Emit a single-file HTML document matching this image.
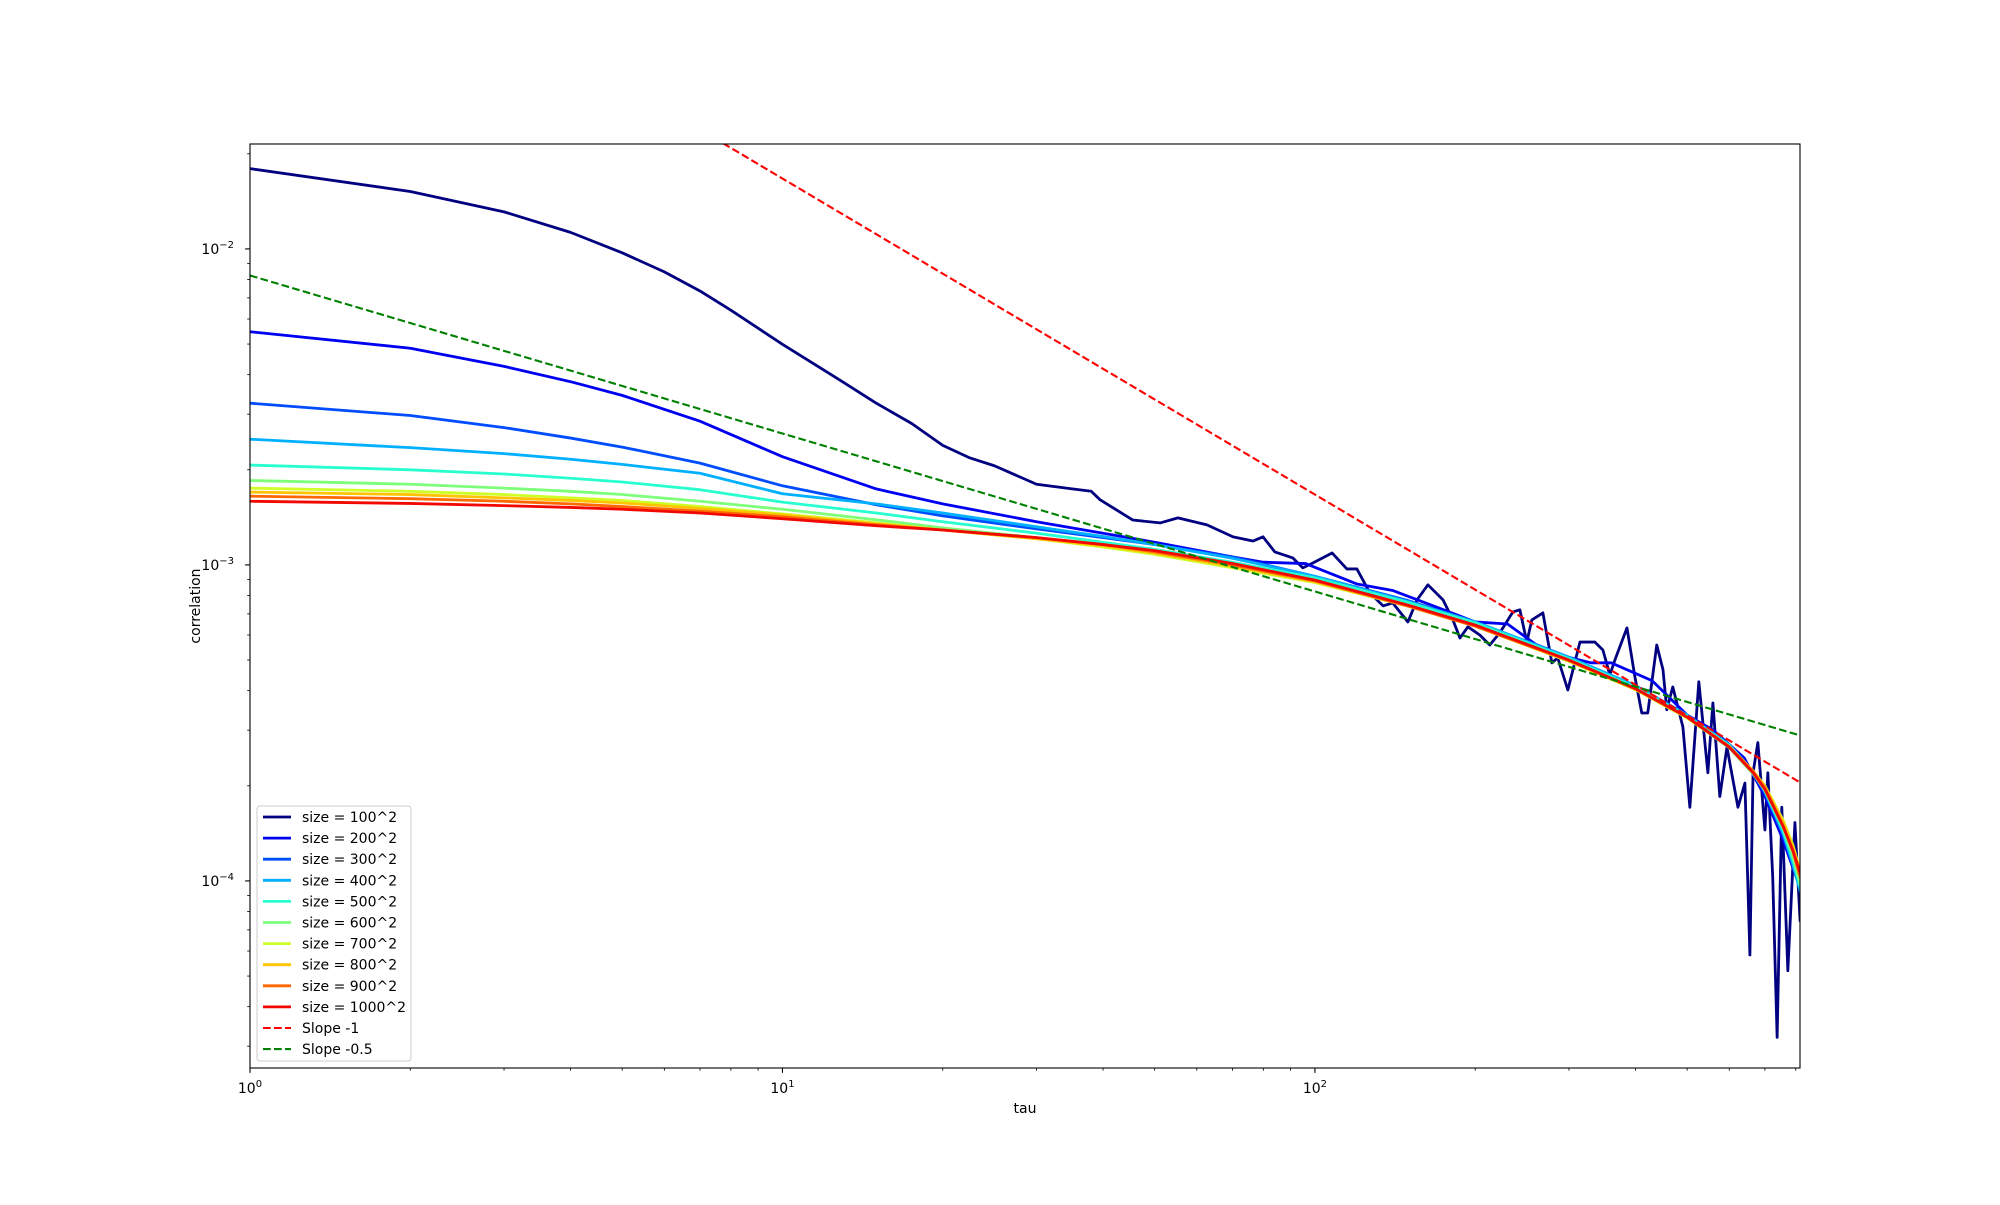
<!DOCTYPE html>
<html><head><meta charset="utf-8"><style>
html,body{margin:0;padding:0;background:#fff;}
svg text{font-family:"DejaVu Sans","Liberation Sans",sans-serif;fill:#000;}
</style></head>
<body>
<svg id="chart" width="2000" height="1200" xmlns="http://www.w3.org/2000/svg">
<rect x="0" y="0" width="2000" height="1200" fill="#fff"/>
<defs><clipPath id="plotclip"><rect x="250" y="144" width="1550" height="924"/></clipPath></defs>
<g id="series" clip-path="url(#plotclip)"></g>
<g id="axes"></g>
<g id="legend"></g>
</svg>
<script>
// ---- data ----
const tau100 = [1,2,3,4,5,6,7,8,10,12.5,15,17.5,20,22.5,25,30,35,38,39.5,45.5,51.2,55.3,62.7,70.2,76.5,79.9,84.1,90.9,94.9,99.1,107.7,114.8,119.9,123,126.8,134.3,140,149.5,155.5,163,174,181.6,187.2,193.8,204,213,222.5,235.4,242.6,250,255.5,268,278.6,285.8,298.5,314.6,335.5,347.4,358,365.9,385.5,399,411,421.8,438.5,450.5,458,470,491,506,526,547,559,576,594,623,642,656,665,679,700,709,724,738,753,773,797,815];
const c100 = [0.01795,0.0152,0.0131,0.01128,0.00972,0.00846,0.00736,0.0064,0.00499,0.00395,0.00325,0.0028,0.00239,0.00218,0.00206,0.0018,0.00174,0.00171,1.607e-3,1.387e-3,1.358e-3,1.409e-3,1.339e-3,1.227e-3,1.19e-3,1.227e-3,1.099e-3,1.052e-3,9.79e-4,1.014e-3,1.091e-3,9.71e-4,9.71e-4,8.97e-4,8.15e-4,7.42e-4,7.58e-4,6.6e-4,7.75e-4,8.65e-4,7.75e-4,6.7e-4,5.87e-4,6.37e-4,6.0e-4,5.58e-4,6.1e-4,7.1e-4,7.21e-4,5.7e-4,6.7e-4,7.05e-4,4.9e-4,5.08e-4,4.02e-4,5.7e-4,5.7e-4,5.38e-4,4.49e-4,5.0e-4,6.32e-4,4.42e-4,3.4e-4,3.4e-4,5.58e-4,4.66e-4,3.48e-4,4.11e-4,3.07e-4,1.71e-4,4.27e-4,2.2e-4,3.66e-4,1.85e-4,2.65e-4,1.71e-4,2.04e-4,5.83e-5,2.2e-4,2.74e-4,1.45e-4,2.2e-4,1.03e-4,3.2e-5,1.71e-4,5.2e-5,1.53e-4,7.5e-5];
const tau200 = [1,2,3,4,5,7,10,15,20,30,40,50,70,80,96,120,140,175,200,230,260,300,330,360,430,500,560,640,700,757,790,815];
const c200 = [5.47e-3,4.85e-3,4.25e-3,3.8e-3,3.44e-3,2.85e-3,2.2e-3,1.74e-3,1.56e-3,1.37e-3,1.26e-3,1.18e-3,1.06e-3,1.02e-3,1.01e-3,8.7e-4,8.3e-4,7.2e-4,6.6e-4,6.5e-4,5.6e-4,5.1e-4,4.9e-4,4.9e-4,4.3e-4,3.35e-4,3.0e-4,2.45e-4,1.85e-4,1.35e-4,1.1e-4,9.5e-5];
const tauS = [1,2,3,4,5,7,10,15,20,30,40,50,70,100,150,200,300,400,500,600,665,700,757,790,815];
const c300 = [3.25e-3,2.97e-3,2.72e-3,2.52e-3,2.36e-3,2.1e-3,1.78e-3,1.55e-3,1.43e-3,1.3e-3,1.22e-3,1.16e-3,1.06e-3,9.2e-4,7.7e-4,6.6e-4,5.1e-4,4.15e-4,3.35e-4,2.68e-4,2.2e-4,1.9e-4,1.4e-4,1.12e-4,9.4e-5];
const c400 = [2.5e-3,2.35e-3,2.25e-3,2.16e-3,2.08e-3,1.95e-3,1.68e-3,1.56e-3,1.46e-3,1.32e-3,1.23e-3,1.16e-3,1.05e-3,9.2e-4,7.65e-4,6.6e-4,5.1e-4,4.15e-4,3.35e-4,2.7e-4,2.22e-4,1.92e-4,1.42e-4,1.13e-4,9.3e-5];
const c500 = [2.07e-3,2.0e-3,1.94e-3,1.88e-3,1.83e-3,1.73e-3,1.58e-3,1.46e-3,1.37e-3,1.26e-3,1.18e-3,1.12e-3,1.02e-3,9.1e-4,7.6e-4,6.55e-4,5.05e-4,4.1e-4,3.32e-4,2.68e-4,2.2e-4,1.93e-4,1.45e-4,1.17e-4,9.6e-5];
const c600 = [1.85e-3,1.8e-3,1.75e-3,1.71e-3,1.67e-3,1.59e-3,1.5e-3,1.39e-3,1.31e-3,1.22e-3,1.15e-3,1.09e-3,9.9e-4,8.9e-4,7.45e-4,6.45e-4,4.98e-4,4.05e-4,3.28e-4,2.64e-4,2.18e-4,1.94e-4,1.48e-4,1.2e-4,9.8e-5];
const c700 = [1.75e-3,1.71e-3,1.67e-3,1.63e-3,1.6e-3,1.53e-3,1.45e-3,1.36e-3,1.29e-3,1.21e-3,1.14e-3,1.08e-3,9.8e-4,8.8e-4,7.4e-4,6.4e-4,4.95e-4,4.03e-4,3.28e-4,2.66e-4,2.23e-4,2.0e-4,1.56e-4,1.3e-4,1.08e-4];
const c800 = [1.7e-3,1.67e-3,1.63e-3,1.6e-3,1.57e-3,1.51e-3,1.44e-3,1.35e-3,1.29e-3,1.21e-3,1.15e-3,1.09e-3,9.9e-4,8.85e-4,7.4e-4,6.4e-4,4.97e-4,4.04e-4,3.29e-4,2.66e-4,2.23e-4,1.99e-4,1.54e-4,1.28e-4,1.07e-4];
const c900 = [1.65e-3,1.62e-3,1.59e-3,1.56e-3,1.53e-3,1.48e-3,1.42e-3,1.34e-3,1.29e-3,1.22e-3,1.16e-3,1.1e-3,1.0e-3,8.9e-4,7.4e-4,6.4e-4,4.98e-4,4.05e-4,3.3e-4,2.66e-4,2.22e-4,1.97e-4,1.5e-4,1.24e-4,1.03e-4];
const c1000 = [1.59e-3,1.565e-3,1.54e-3,1.52e-3,1.5e-3,1.46e-3,1.4e-3,1.33e-3,1.29e-3,1.22e-3,1.16e-3,1.11e-3,1.01e-3,8.95e-4,7.45e-4,6.45e-4,5.0e-4,4.06e-4,3.3e-4,2.65e-4,2.2e-4,1.95e-4,1.49e-4,1.25e-4,1.06e-4];
const seriesLabels = ["size = 100^2","size = 200^2","size = 300^2","size = 400^2","size = 500^2","size = 600^2","size = 700^2","size = 800^2","size = 900^2","size = 1000^2"];
const seriesColors = ["#000080","#0000f1","#004cff","#00b0ff","#29ffce","#7dff7a","#ceff29","#ffc400","#ff6800","#f10800"];
const slopeLabels = ["Slope -1","Slope -0.5"];
const slopeCoef = [0.167, 0.00824];
const slopeExp = [-1, -0.5];
const xTicks = [1,10,100];
const xTickLabels = ["0","1","2"];
const yTicks = [1e-4,1e-3,1e-2];
const yTickLabels = ["\u22124","\u22123","\u22122"];

// ---- axes ----
const X0=250,X1=1800,Y0=144,Y1=1068;
const LXMIN=0,LXMAX=2.911,LYMAX=-1.668,LYMIN=-4.592;
function xs(t){return X0+(Math.log10(t)-LXMIN)/(LXMAX-LXMIN)*(X1-X0);}
function ys(v){return Y0+(LYMAX-Math.log10(v))/(LYMAX-LYMIN)*(Y1-Y0);}
const NS="http://www.w3.org/2000/svg";
function mk(tag,attrs,parent){const e=document.createElementNS(NS,tag);for(const k in attrs)e.setAttribute(k,attrs[k]);parent.appendChild(e);return e;}
const gS=document.getElementById('series'),gA=document.getElementById('axes'),gL=document.getElementById('legend');

const allTau=[tau100,tau200,tauS,tauS,tauS,tauS,tauS,tauS,tauS,tauS];
const allC=[c100,c200,c300,c400,c500,c600,c700,c800,c900,c1000];
for(let i=0;i<allC.length;i++){
  const pts=allTau[i].map((t,j)=>xs(t).toFixed(2)+','+ys(allC[i][j]).toFixed(2)).join(' ');
  const pl=mk('polyline',{points:pts,fill:'none',stroke:seriesColors[i],'stroke-width':2.8,'stroke-linejoin':'round','stroke-linecap':'square'},gS);
  
  
}
const slopeColors=["#ff0000","#008000"];
for(let i=0;i<2;i++){
  const ta=1,tb=815;
  const ln=mk('line',{x1:xs(ta),y1:ys(slopeCoef[i]*Math.pow(ta,slopeExp[i])),x2:xs(tb),y2:ys(slopeCoef[i]*Math.pow(tb,slopeExp[i])),stroke:slopeColors[i],'stroke-width':2.1,'stroke-dasharray':'7.7,3.3'},gS);
  
  
}
// frame
const fr=mk('rect',{x:X0,y:Y0,width:X1-X0,height:Y1-Y0,fill:'none',stroke:'#000','stroke-width':1.1},gA);


// x ticks
for(let d=0;d<3;d++){for(let m=1;m<10;m++){const t=Math.pow(10,d)*m;const x=xs(t);if(x>X1+0.5)continue;
  const tk=mk('line',{x1:x,y1:Y1,x2:x,y2:Y1+(m===1?4.9:2.8),stroke:'#000','stroke-width':m===1?1.1:0.8},gA);
  
  }}
xTicks.forEach((t,i)=>{const tx=mk('text',{x:xs(t),y:1093,'font-size':14,'text-anchor':'middle'},gA);
  tx.innerHTML='10<tspan dy="-6" font-size="10">'+xTickLabels[i]+'</tspan>';
  
  });
// y ticks
for(let d=-5;d<-1;d++){for(let m=1;m<10;m++){const v=Math.pow(10,d)*m;const y=ys(v);if(y<Y0-0.5||y>Y1+0.5)continue;
  const tk=mk('line',{x1:X0,y1:y,x2:X0-(m===1?4.9:2.8),y2:y,stroke:'#000','stroke-width':m===1?1.1:0.8},gA);
  
  }}
yTicks.forEach((v,i)=>{const tx=mk('text',{x:234,y:ys(v)+5,'font-size':14,'text-anchor':'end'},gA);
  tx.innerHTML='10<tspan dy="-6" font-size="10">'+yTickLabels[i]+'</tspan>';
  
  });
const xl=mk('text',{x:1025,y:1113,'font-size':14,'text-anchor':'middle'},gA);xl.textContent='tau';


const yl=mk('text',{x:0,y:0,'font-size':14,'text-anchor':'middle',transform:'translate(200,606) rotate(-90)'},gA);yl.textContent='correlation';


// legend
const lb=mk('rect',{x:257,y:806,width:154,height:255,rx:3,fill:'#fff','fill-opacity':0.8,stroke:'#ccc','stroke-width':1},gL);


const labs=seriesLabels.concat(slopeLabels),cols=seriesColors.concat(slopeColors);
labs.forEach((s,i)=>{const y=817+i*21.1;
  const ln=mk('line',{x1:263,y1:y,x2:291,y2:y,stroke:cols[i],'stroke-width':i<10?2.8:2.1},gL);
  if(i>=10)ln.setAttribute('stroke-dasharray','7.7,3.3');
  
  
  const tx=mk('text',{x:302,y:y+5,'font-size':14},gL);tx.textContent=s;
  
  });
</script>
</body></html>
